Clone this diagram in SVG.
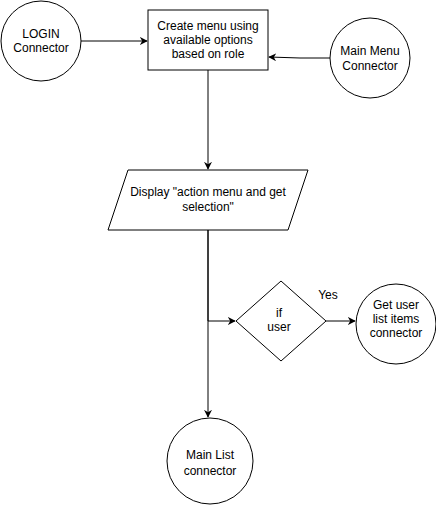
<svg xmlns="http://www.w3.org/2000/svg" width="436" height="505" viewBox="0 0 436 505">
<defs>
<style>
.s{fill:#fff;stroke:#000;stroke-width:1}
.t{font-family:"Liberation Sans",Arial,sans-serif;font-size:12px;fill:#000;text-anchor:middle}
.e{fill:none;stroke:#000;stroke-width:1}
</style>
<marker id="a" viewBox="0 0 10 10" refX="9" refY="5" markerWidth="8" markerHeight="8" markerUnits="userSpaceOnUse" orient="auto">
<path d="M0,0 L10,5 L0,10 L3,5 Z" fill="#000"/>
</marker>
</defs>
<rect width="436" height="505" fill="#fff"/>
<g id="connectors">
<line class="e" x1="81" y1="41" x2="147" y2="41" marker-end="url(#a)"/>
<polyline class="e" points="330,58 300,58 269,57" marker-end="url(#a)"/>
<line class="e" x1="208" y1="70" x2="208" y2="169" marker-end="url(#a)"/>
<line class="e" x1="208" y1="230" x2="208" y2="417" marker-end="url(#a)"/>
<polyline class="e" points="208,230 208,321 235,321" marker-end="url(#a)"/>
<line class="e" x1="326" y1="321" x2="355" y2="321" marker-end="url(#a)"/>
<text class="t" x="328" y="299">Yes</text>
</g>
<g id="login">
<circle class="s" cx="41" cy="41" r="40"/>
<text class="t" x="41" y="38">LOGIN</text>
<text class="t" x="41" y="52">Connector</text>
</g>
<g id="create-menu">
<rect class="s" x="148" y="10" width="120" height="60"/>
<text class="t" x="208" y="30">Create menu using</text>
<text class="t" x="208" y="44">available options</text>
<text class="t" x="208" y="58">based on role</text>
</g>
<g id="main-menu">
<circle class="s" cx="370" cy="58" r="40"/>
<text class="t" x="370" y="55">Main Menu</text>
<text class="t" x="370" y="70">Connector</text>
</g>
<g id="display">
<polygon class="s" points="128,170 308,170 288,230 108,230"/>
<text class="t" x="208" y="196">Display "action menu and get</text>
<text class="t" x="208" y="211">selection"</text>
</g>
<g id="if-user">
<polygon class="s" points="281,281 326,321 281,361 236,321"/>
<text class="t" x="279" y="317">if</text>
<text class="t" x="279" y="331">user</text>
</g>
<g id="get-user">
<circle class="s" cx="396" cy="324" r="40"/>
<text class="t" x="396" y="309">Get user</text>
<text class="t" x="396" y="323">list items</text>
<text class="t" x="396" y="337">connector</text>
</g>
<g id="main-list">
<circle class="s" cx="210" cy="461" r="43"/>
<text class="t" x="210" y="459">Main List</text>
<text class="t" x="210" y="475">connector</text>
</g>
</svg>
